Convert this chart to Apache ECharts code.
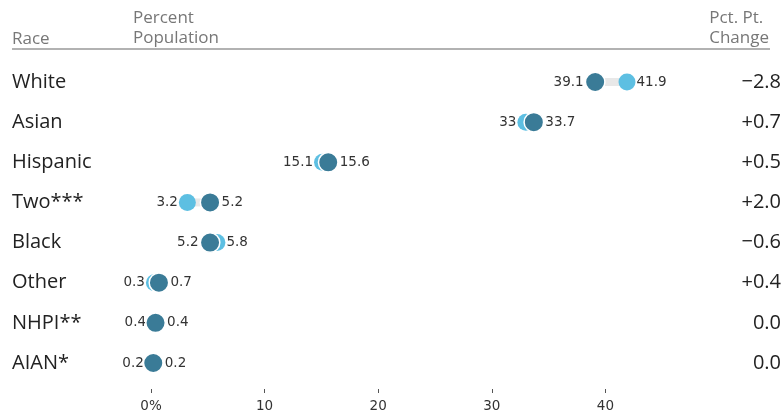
<!DOCTYPE html>
<html lang="en">
<head>
    <meta charset="UTF-8">
    <title>Race dumbbell</title>
    <script src="https://cdn.jsdelivr.net/npm/echarts@6/dist/echarts.min.js"></script>
    <style type="text/css">
        *{
            margin: 0;
            padding: 0;
        }
        #chart{
            width: 784px;
            height: 415px;
        }
    </style>
</head>
<body>
    <div id="chart"></div>
</body>
<script>
    // data
    var categories = ['White', 'Asian', 'Hispanic', 'Two***', 'Black', 'Other', 'NHPI**', 'AIAN*'];
    var lightValues = [41.9, 33, 15.1, 3.2, 5.8, 0.3, 0.4, 0.2];   // earlier year
    var darkValues = [39.1, 33.7, 15.6, 5.2, 5.2, 0.7, 0.4, 0.2];  // later year
    var changeLabels = ['\u22122.8', '+0.7', '+0.5', '+2.0', '\u22120.6', '+0.4', '0.0', '0.0'];
    var xTicks = [0, 10, 20, 30, 40];

    var LIGHT = '#5dbfe2';
    var DARK = '#3a7b97';
    var FONT = '"Open Sans", sans-serif';
    var NUMFONT = '"DejaVu Sans", sans-serif';

    var myChart = echarts.init(document.getElementById('chart'));

    var baseData = [], gapData = [], lightData = [], darkData = [];
    for (var i = 0; i < categories.length; i++) {
        var l = lightValues[i], d = darkValues[i];
        baseData.push(Math.min(l, d));
        gapData.push(Math.abs(l - d));
        lightData.push({
            value: [l, i],
            label: {position: l <= d ? 'left' : 'right'}
        });
        darkData.push({
            value: [d, i],
            label: {position: d < l ? 'left' : 'right'}
        });
    }

    var valueLabel = {
        show: true,
        distance: 1,
        fontFamily: NUMFONT,
        fontSize: 13.5,
        color: '#333',
        formatter: function (p) { return p.value[0]; }
    };

    var option = {
        animation: false,
        backgroundColor: '#fff',
        grid: {left: 151, right: 64.5, top: 82, bottom: 52},
        graphic: [
            {type: 'text', left: 12, top: 31, style: {text: 'Race', fontFamily: FONT, fontSize: 17, fill: '#777'}},
            {type: 'text', left: 133, top: 8, style: {text: 'Percent\nPopulation', fontFamily: FONT, fontSize: 17, lineHeight: 20, fill: '#777'}},
            {type: 'text', right: 15, top: 8, style: {text: 'Pct. Pt.\nChange', fontFamily: FONT, fontSize: 17, lineHeight: 20, fill: '#777', align: 'left'}},
            {type: 'line', shape: {x1: 12, y1: 49, x2: 770, y2: 49}, style: {stroke: '#999', lineWidth: 1.5}}
        ],
        xAxis: {
            type: 'value',
            min: 0,
            max: 50,
            interval: 10,
            position: 'bottom',
            offset: 26,
            axisLine: {show: false},
            splitLine: {show: false},
            axisTick: {show: true, length: 4, customValues: xTicks, lineStyle: {color: '#555'}},
            axisLabel: {
                customValues: xTicks,
                margin: 10,
                fontFamily: NUMFONT,
                fontSize: 13.5,
                color: '#333',
                formatter: function (v) { return v === 0 ? '0%' : v; }
            }
        },
        yAxis: [
            {
                type: 'category',
                data: categories,
                inverse: true,
                boundaryGap: false,
                axisLine: {show: false},
                axisTick: {show: false},
                axisLabel: {align: 'left', margin: 139, padding: [6, 0, 0, 0], fontFamily: FONT, fontSize: 20, color: '#222'}
            },
            {
                type: 'category',
                data: changeLabels,
                inverse: true,
                boundaryGap: false,
                position: 'right',
                axisLine: {show: false},
                axisTick: {show: false},
                axisLabel: {align: 'right', margin: 62, fontFamily: FONT, fontSize: 20, color: '#222'}
            }
        ],
        series: [
            {
                type: 'bar', stack: 'gap', data: baseData, barWidth: 8,
                itemStyle: {color: 'transparent'}, silent: true
            },
            {
                type: 'bar', stack: 'gap', data: gapData, barWidth: 8,
                itemStyle: {color: '#e8e8e8'}, silent: true
            },
            {
                type: 'scatter', data: lightData, symbolSize: 17,
                itemStyle: {color: LIGHT, opacity: 1},
                label: valueLabel, z: 3
            },
            {
                type: 'scatter', data: darkData, symbolSize: 19.5,
                itemStyle: {color: DARK, borderColor: '#fff', borderWidth: 1.5, opacity: 1},
                label: valueLabel, z: 4
            }
        ]
    };
    myChart.setOption(option);
</script>
</html>
